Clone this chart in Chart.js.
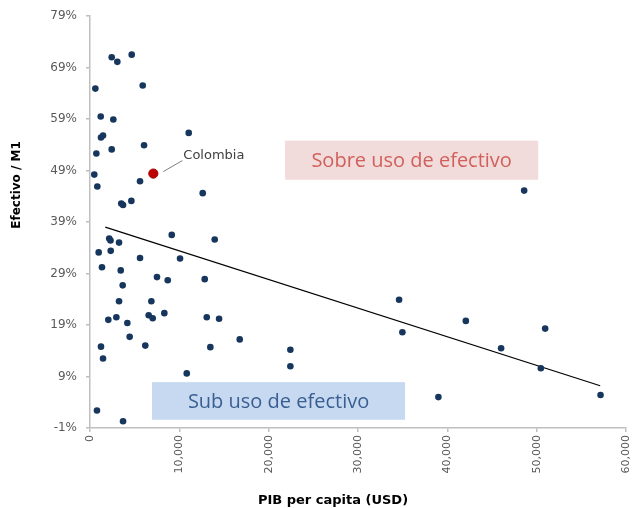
<!DOCTYPE html>
<html lang="es">

<head>
  <meta charset="UTF-8">
  <title>Efectivo / M1 vs PIB per capita</title>
  <script src="https://cdn.jsdelivr.net/npm/chart.js"></script>
  <style>
    html, body { margin: 0; padding: 0; background: #ffffff; }
    .grafico { width: 633px; height: 508px; }
  </style>
</head>

<body>
  <div class="grafico">
    <canvas id="graficoEfectivo" width="633" height="508"></canvas>
  </div>

  <script>
    // datos (PIB per capita en USD, efectivo/M1 en %)
    const pibPerCapita = [2430, 3060, 4670, 5900, 600, 1200, 2610, 11050, 1230, 1460,
      6050, 710, 2430, 480, 820, 5600, 12620, 3500, 3700, 4630,
      9150, 13960, 2150, 2300, 3250, 970, 2320, 5600, 10080, 1340,
      3440, 7500, 8700, 12840, 3660, 3250, 6870, 6570, 7020, 8320,
      2050, 2950, 13070, 14450, 4180, 4440, 16760, 1230, 6190, 13470,
      22430, 1460, 22430, 10830, 780, 3700, 48600, 34600, 34970, 42070,
      50950, 46020, 50470, 39000, 57150];
    const efectivoM1 = [71.0, 70.1, 71.5, 65.5, 64.9, 59.5, 58.9, 56.3, 55.4, 55.8,
      53.9, 52.3, 53.1, 48.2, 45.9, 46.9, 44.6, 42.6, 42.3, 43.1,
      36.5, 35.6, 35.8, 35.4, 35.0, 33.1, 33.4, 32.0, 31.9, 30.2,
      29.6, 28.3, 27.7, 27.9, 26.7, 23.6, 23.6, 20.9, 20.3, 21.3,
      20.0, 20.5, 20.5, 20.2, 19.4, 16.7, 16.2, 14.8, 15.0, 14.7,
      14.2, 12.5, 11.0, 9.6, 2.4, 0.3, 45.1, 23.9, 17.6, 19.8,
      18.3, 14.5, 10.6, 5.0, 5.4];

    const colombiaPib = [7090];
    const colombiaEfectivo = [48.4];

    // extremos de la línea de tendencia
    const tendenciaPib = [1710, 57110];
    const tendenciaEfectivo = [38.0, 7.2];

    const ticksPib = [0, 10000, 20000, 30000, 40000, 50000, 60000];
    const ticksEfectivo = [-1, 9, 19, 29, 39, 49, 59, 69, 79];

    // cajas de texto (en unidades de datos)
    const cajas = [
      { texto: 'Sobre uso de efectivo', x: [21840, 50170], y: [47.2, 54.8], fondo: '#f2dcdb', color: '#d0605b' },
      { texto: 'Sub uso de efectivo', x: [6940, 35270], y: [0.6, 7.9], fondo: '#c6d9f1', color: '#3a5e91' }
    ];

    const puntos = (xs, ys) => xs.map((v, i) => ({ x: v, y: ys[i] }));

    const anotaciones = {
      id: 'anotaciones',
      beforeDatasetsDraw(chart) {
        const { ctx, scales: { x, y } } = chart;
        ctx.save();
        cajas.forEach(c => {
          const x1 = x.getPixelForValue(c.x[0]);
          const x2 = x.getPixelForValue(c.x[1]);
          const y1 = y.getPixelForValue(c.y[1]);
          const y2 = y.getPixelForValue(c.y[0]);
          ctx.fillStyle = c.fondo;
          ctx.fillRect(x1, y1, x2 - x1, y2 - y1);
          ctx.fillStyle = c.color;
          ctx.font = '20px "Open Sans"';
          ctx.textAlign = 'center';
          ctx.textBaseline = 'middle';
          ctx.fillText(c.texto, (x1 + x2) / 2, (y1 + y2) / 2 + 1);
        });
        ctx.restore();
      },
      afterDraw(chart) {
        const { ctx, chartArea, scales: { x, y } } = chart;
        ctx.save();

        // etiqueta Colombia
        const px = x.getPixelForValue(colombiaPib[0]);
        const py = y.getPixelForValue(colombiaEfectivo[0]);
        ctx.strokeStyle = '#7f7f7f';
        ctx.lineWidth = 1;
        ctx.beginPath();
        ctx.moveTo(px + 10, py - 2);
        ctx.lineTo(px + 29, py - 13);
        ctx.stroke();
        ctx.fillStyle = '#404040';
        ctx.font = '13px "DejaVu Sans"';
        ctx.textAlign = 'left';
        ctx.textBaseline = 'middle';
        ctx.fillText('Colombia', px + 30, py - 18);

        // títulos de los ejes
        ctx.fillStyle = '#000000';
        ctx.font = 'bold 13px "DejaVu Sans"';
        ctx.textAlign = 'center';
        ctx.fillText('PIB per capita (USD)', 333, 501);

        ctx.font = 'bold 12px "DejaVu Sans"';
        ctx.translate(17, chartArea.top + chartArea.height * 0.41);
        ctx.rotate(-Math.PI / 2);
        ctx.fillText('Efectivo / M1', 0, 0);
        ctx.restore();
      }
    };

    const ctxEfectivo = document.getElementById('graficoEfectivo');
    new Chart(ctxEfectivo, {
      type: 'scatter',
      data: {
        datasets: [
          {
            label: 'Colombia',
            data: puntos(colombiaPib, colombiaEfectivo),
            backgroundColor: '#c00000',
            borderColor: '#a00000',
            borderWidth: 1,
            pointRadius: 4.6
          },
          {
            label: 'Países',
            data: puntos(pibPerCapita, efectivoM1),
            backgroundColor: '#17365d',
            borderWidth: 0,
            pointRadius: 3.3
          },
          {
            label: 'Tendencia',
            data: puntos(tendenciaPib, tendenciaEfectivo),
            showLine: true,
            borderColor: '#000000',
            borderWidth: 1.2,
            pointRadius: 0
          }
        ]
      },
      options: {
        responsive: false,
        animation: false,
        layout: { padding: { top: 16, right: 7, left: 0, bottom: 0 } },
        plugins: {
          legend: { display: false },
          tooltip: { enabled: false }
        },
        scales: {
          x: {
            type: 'linear',
            min: ticksPib[0],
            max: ticksPib[ticksPib.length - 1],
            afterBuildTicks: s => { s.ticks = ticksPib.map(v => ({ value: v })); },
            afterFit: s => { s.height = 80; s.paddingLeft = 0; s.paddingRight = 0; },
            ticks: {
              minRotation: 90,
              maxRotation: 90,
              padding: 3,
              color: '#595959',
              font: { family: 'DejaVu Sans', size: 11 },
              callback: v => v.toLocaleString('en-US')
            },
            grid: { drawOnChartArea: false, tickLength: 4, color: '#bfbfbf', lineWidth: 1.5 },
            border: { color: '#bfbfbf', width: 1.5 }
          },
          y: {
            min: ticksEfectivo[0],
            max: ticksEfectivo[ticksEfectivo.length - 1],
            afterBuildTicks: s => { s.ticks = ticksEfectivo.map(v => ({ value: v })); },
            afterFit: s => { s.width = 90; s.paddingTop = 0; s.paddingBottom = 0; },
            ticks: {
              padding: 9,
              color: '#595959',
              font: { family: 'DejaVu Sans', size: 12 },
              callback: v => v + '%'
            },
            grid: { drawOnChartArea: false, tickLength: 4, color: '#bfbfbf', lineWidth: 1.5 },
            border: { color: '#bfbfbf', width: 1.5 }
          }
        }
      },
      plugins: [anotaciones]
    });
  </script>

</body>

</html>
